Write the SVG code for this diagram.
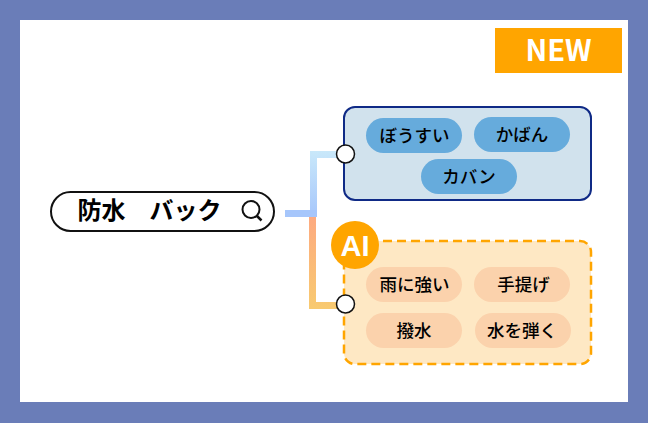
<svg xmlns="http://www.w3.org/2000/svg" width="648" height="423" viewBox="0 0 648 423">
<style>
text{font-family:"Noto Sans CJK JP","Noto Sans",sans-serif;text-anchor:middle;fill:#000}
.p{font-size:17.500px;font-weight:500}
.pb{fill:#66abdc}.po{fill:#fbd2ac}
.dot{fill:#fff;stroke:#111;stroke-width:1.500}
</style>
<defs>
<linearGradient id="gb" gradientUnits="userSpaceOnUse" x1="0" y1="151" x2="0" y2="217"><stop offset="0" stop-color="#c9e8fa"/><stop offset="1" stop-color="#a6c6fb"/></linearGradient>
<linearGradient id="go" gradientUnits="userSpaceOnUse" x1="0" y1="217" x2="0" y2="309"><stop offset="0" stop-color="#fdaa80"/><stop offset="1" stop-color="#f8ca70"/></linearGradient>
</defs>
<rect width="648" height="423" fill="#6a7db8"/>
<rect x="20" y="20" width="608" height="382" fill="#fff"/>
<g id="new"><rect x="495" y="28" width="127" height="45" fill="#ffa500"/><text x="558.500" y="61" font-size="29" font-weight="700" style="fill:#fff;font-family:'Noto Sans CJK JP',sans-serif">NEW</text></g>
<g id="connectors">
<path d="M285 210H310V151H345V158H317V217H285Z" fill="url(#gb)"/>
<path d="M285 210H317V217H285Z" fill="#a6c6fb"/>
<path d="M309 217H316V302H345V309H309Z" fill="url(#go)"/>
</g>
<g id="search">
<rect x="51" y="192" width="223" height="39" rx="19.500" fill="#fff" stroke="#111" stroke-width="2"/>
<text x="149.500" y="219" font-size="24" font-weight="700">防水　バック</text>
<circle cx="251" cy="209.500" r="8.500" fill="none" stroke="#111" stroke-width="2"/>
<path d="M257 216L261.500 220.500" stroke="#111" stroke-width="2.500" fill="none"/>
</g>
<g id="blue-box">
<rect x="344" y="107" width="247" height="93" rx="11" fill="#d1e2ed" stroke="#0f2a86" stroke-width="2"/>
<rect class="pb" x="366" y="118" width="96" height="35" rx="17.500"/><text class="p" x="414.500" y="141.500">ぼうすい</text>
<rect class="pb" x="474" y="117" width="96" height="35" rx="17.500"/><text class="p" x="522" y="140.500">かばん</text>
<rect class="pb" x="421" y="159" width="96" height="35" rx="17.500"/><text class="p" x="469" y="182.500">カバン</text>
<circle class="dot" cx="345.500" cy="154" r="9"/>
</g>
<g id="orange-box">
<rect x="344" y="241" width="247" height="123" rx="11" fill="#fee8c4" stroke="#ffa500" stroke-width="2.500" stroke-dasharray="9 5"/>
<rect class="po" x="366" y="267" width="96" height="35" rx="17.500"/><text class="p" x="414.500" y="290.500">雨に強い</text>
<rect class="po" x="474" y="267" width="96" height="35" rx="17.500"/><text class="p" x="523.500" y="290.500">手提げ</text>
<rect class="po" x="366" y="313" width="96" height="35" rx="17.500"/><text class="p" x="414" y="336.500">撥水</text>
<rect class="po" x="475" y="313" width="96" height="35" rx="17.500"/><text class="p" x="522" y="336.500">水を弾く</text>
<circle class="dot" cx="345.500" cy="304" r="9"/>
</g>
<g id="ai"><circle cx="355" cy="245" r="24" fill="#ffa500"/><text x="355" y="255.500" font-size="29" font-weight="700" style="fill:#fff;font-family:'Liberation Sans',sans-serif">AI</text></g>
</svg>
